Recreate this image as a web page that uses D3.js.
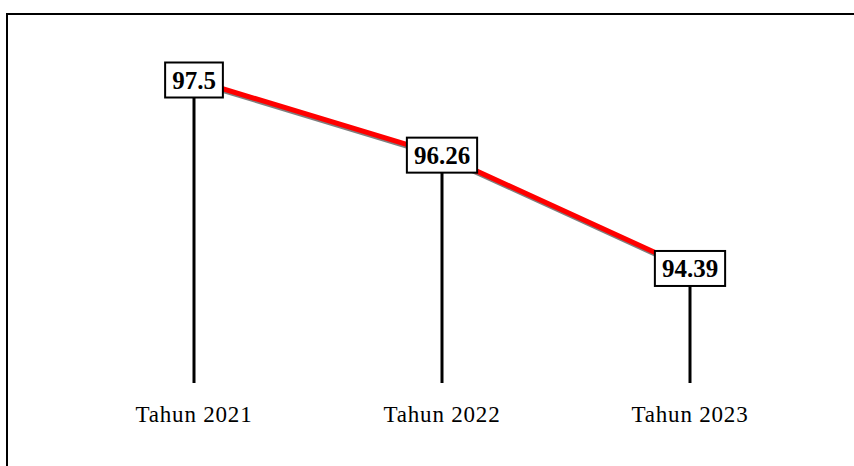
<!DOCTYPE html>
<html>
<head>
<meta charset="utf-8">
<script src="https://cdn.jsdelivr.net/npm/d3@7"></script>
<style>
  body { margin: 0; background: #fff; }
  svg { display: block; }
</style>
</head>
<body>
<svg id="chart" width="854" height="466"></svg>
<script>
// data
var categories = ["Tahun 2021", "Tahun 2022", "Tahun 2023"];
var values = [97.5, 96.26, 94.39];
var valueLabels = ["97.5", "96.26", "94.39"];

var svg = d3.select("#chart"),
    width = +svg.attr("width"),
    height = +svg.attr("height");

var baseY = 383;
var serif = "'Liberation Serif', 'Times New Roman', Times, serif";

var x = d3.scalePoint()
    .domain(categories)
    .range([194, 690]);

var y = d3.scaleLinear()
    .domain([92.5, 97.5])
    .range([baseY, 80]);

// frame (runs off the right and bottom edge)
svg.append("rect")
    .attr("x", 7)
    .attr("y", 14)
    .attr("width", 1000)
    .attr("height", 600)
    .attr("fill", "none")
    .attr("stroke", "#000")
    .attr("stroke-width", 2);

var pts = categories.map(function (c, i) {
    return { cat: c, v: values[i], label: valueLabels[i] };
});

// drop lines
svg.append("g")
    .selectAll("line")
    .data(pts)
    .enter().append("line")
    .attr("x1", function (d) { return x(d.cat); })
    .attr("x2", function (d) { return x(d.cat); })
    .attr("y1", function (d) { return y(d.v); })
    .attr("y2", baseY)
    .attr("stroke", "#000")
    .attr("stroke-width", 3);

var line = d3.line()
    .x(function (d) { return x(d.cat); })
    .y(function (d) { return y(d.v); });

// shadow
svg.append("path")
    .datum(pts)
    .attr("d", line)
    .attr("transform", "translate(1,2)")
    .attr("fill", "none")
    .attr("stroke", "#7f7f7f")
    .attr("stroke-width", 5);

svg.append("path")
    .datum(pts)
    .attr("d", line)
    .attr("fill", "none")
    .attr("stroke", "#ff0000")
    .attr("stroke-width", 5);

// value boxes
var lab = svg.append("g")
    .selectAll("g")
    .data(pts)
    .enter().append("g")
    .attr("transform", function (d) {
        return "translate(" + x(d.cat) + "," + y(d.v) + ")";
    });

lab.append("rect")
    .attr("fill", "#fff")
    .attr("stroke", "#000")
    .attr("stroke-width", 2);

lab.append("text")
    .attr("text-anchor", "middle")
    .attr("dy", "0.34em")
    .style("font-family", serif)
    .attr("font-weight", "bold")
    .attr("font-size", 25)
    .text(function (d) { return d.label; });

lab.each(function () {
    var g = d3.select(this);
    var bb = g.select("text").node().getBBox();
    var w = bb.width + 14, h = 35;
    g.select("rect")
        .attr("x", -w / 2)
        .attr("y", -h / 2)
        .attr("width", w)
        .attr("height", h);
});

// category labels
svg.append("g")
    .selectAll("text")
    .data(categories)
    .enter().append("text")
    .attr("x", function (d) { return x(d); })
    .attr("y", 422)
    .attr("text-anchor", "middle")
    .style("font-family", serif)
    .attr("font-size", 23)
    .attr("letter-spacing", 0.8)
    .attr("fill", "#000")
    .text(function (d) { return d; });
</script>
</body>
</html>
